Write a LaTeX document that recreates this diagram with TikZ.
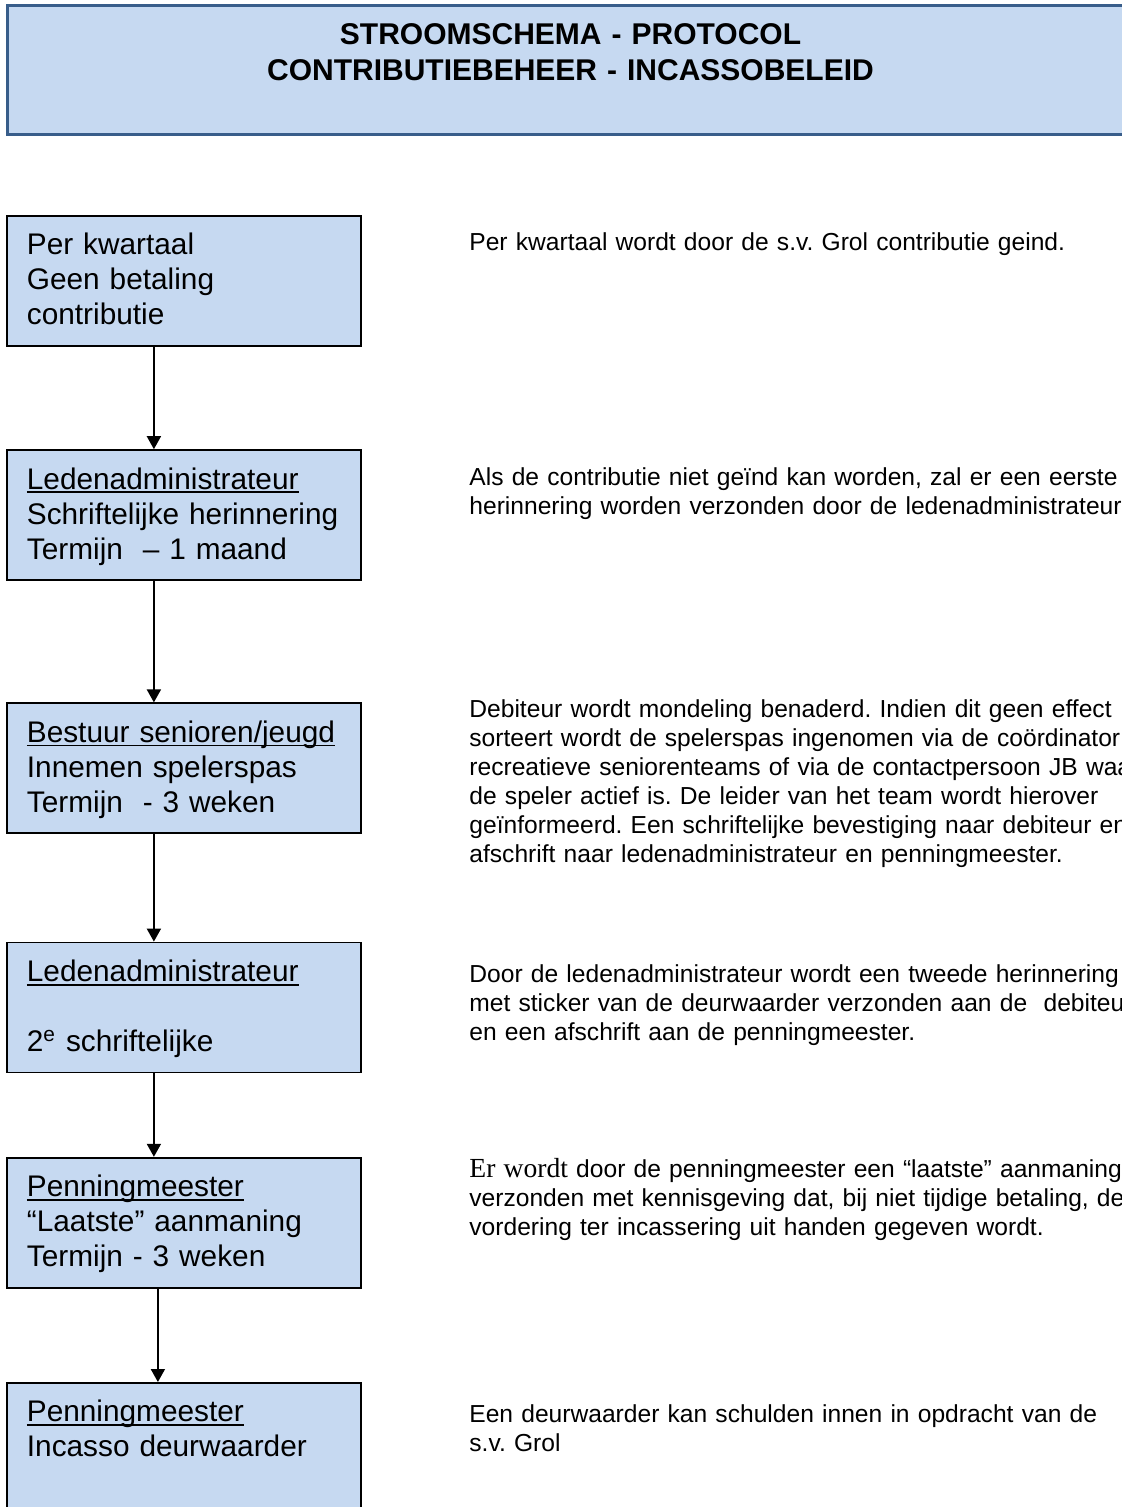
\documentclass[tikz,border=0pt]{standalone}
\usepackage{fontspec}
\setmainfont{Liberation Sans}
\newfontfamily\timesfont{Liberation Serif}
\usepackage{tikz}
\usetikzlibrary{positioning, arrows.meta}

\definecolor{vakblauw}{HTML}{C6D9F1}
\definecolor{randblauw}{HTML}{385D8A}
\newcommand{\onder}[1]{\setbox0\hbox{#1}\rlap{\rule[-2pt]{\wd0}{0.9pt}}\box0}
\frenchspacing

\begin{document}
\begin{tikzpicture}[x=0.5pt, y=-0.5pt]

	% Styles
	\tikzset{
		kop/.style={
			rectangle, draw=randblauw, line width=1.5pt, fill=vakblauw,
			minimum width=563pt, minimum height=64.5pt, anchor=north west,
			inner sep=0pt, text width=563pt, align=center,
			text height=11pt, text depth=36.5pt,
			font=\fontsize{15}{18}\selectfont\bfseries
		},
		stap/.style={
			rectangle, draw, line width=0.9pt, fill=vakblauw,
			minimum width=177pt, minimum height=65pt,
			text width=157pt, inner xsep=10pt, inner ysep=0pt, align=left,
			text height=12pt, text depth=38pt,
			font=\fontsize{14.9}{17.5}\selectfont
		},
		uitleg/.style={
			anchor=base west, inner sep=0pt, text width=430pt, align=left,
			font=\fontsize{12.3}{14.5}\selectfont
		},
		pijl/.style={line width=0.9pt, -{Triangle[length=6.5pt, width=7pt]}}
	}

	\useasboundingbox (0,0) rectangle (1122,1507);
	\clip (0,0) rectangle (1122,1507);

	% Title
	\node (titel) [kop] at (6,4) {STROOMSCHEMA - PROTOCOL\\CONTRIBUTIEBEHEER - INCASSOBELEID};

	% Steps
	\node (kwartaal) [stap, anchor=north west] at (6,215) {Per kwartaal\\Geen betaling\\contributie};
	\node (herinnering) [stap, below=51.2pt of kwartaal] {\onder{Ledenadministrateur}\\Schriftelijke herinnering\\Termijn\ \ -- 1 maand};
	\node (spelerspas) [stap, below=60.7pt of herinnering] {\onder{Bestuur senioren/jeugd}\\Innemen spelerspas\\Termijn\ \ - 3 weken};
	\node (tweede) [stap, below=53.7pt of spelerspas] {\onder{Ledenadministrateur}\\[17.5pt]2\textsuperscript{e} schriftelijke};
	\node (aanmaning) [stap, below=41.7pt of tweede] {\onder{Penningmeester}\\“Laatste” aanmaning\\Termijn - 3 weken};
	\node (incasso) [stap, below=46.7pt of aanmaning] {\onder{Penningmeester}\\Incasso deurwaarder};

	% Explanations
	\node (uitlegkwartaal) [uitleg] at (469,251) {Per kwartaal wordt door de s.v. Grol contributie geind.};
	\node (uitlegherinnering) [uitleg] at (469,486) {Als de contributie niet geïnd kan worden, zal er een eerste\\herinnering worden verzonden door de ledenadministrateur.};
	\node (uitlegspelerspas) [uitleg] at (469,717) {Debiteur wordt mondeling benaderd. Indien dit geen effect\\sorteert wordt de spelerspas ingenomen via de coördinator\\recreatieve seniorenteams of via de contactpersoon JB waar\\de speler actief is. De leider van het team wordt hierover\\geïnformeerd. Een schriftelijke bevestiging naar debiteur en\\afschrift naar ledenadministrateur en penningmeester.};
	\node (uitlegtweede) [uitleg] at (469,982) {Door de ledenadministrateur wordt een tweede herinnering\\met sticker van de deurwaarder verzonden aan de\ \ debiteur\\en een afschrift aan de penningmeester.};
	\node (uitlegaanmaning) [uitleg] at (469,1177) {{\timesfont\fontsize{13.8}{14.5}\selectfont Er wordt} door de penningmeester een “laatste” aanmaning\\verzonden met kennisgeving dat, bij niet tijdige betaling, de\\vordering ter incassering uit handen gegeven wordt.};
	\node (uitlegincasso) [uitleg] at (469,1422) {Een deurwaarder kan schulden innen in opdracht van de\\s.v. Grol};

	% Arrows
	\draw[pijl] ([xshift=-15pt]kwartaal.south) -- ([xshift=-15pt]herinnering.north);
	\draw[pijl] ([xshift=-15pt]herinnering.south) -- ([xshift=-15pt]spelerspas.north);
	\draw[pijl] ([xshift=-15pt]spelerspas.south) -- ([xshift=-15pt]tweede.north);
	\draw[pijl] ([xshift=-15pt]tweede.south) -- ([xshift=-15pt]aanmaning.north);
	\draw[pijl] ([xshift=-13pt]aanmaning.south) -- ([xshift=-13pt]incasso.north);

\end{tikzpicture}
\end{document}
